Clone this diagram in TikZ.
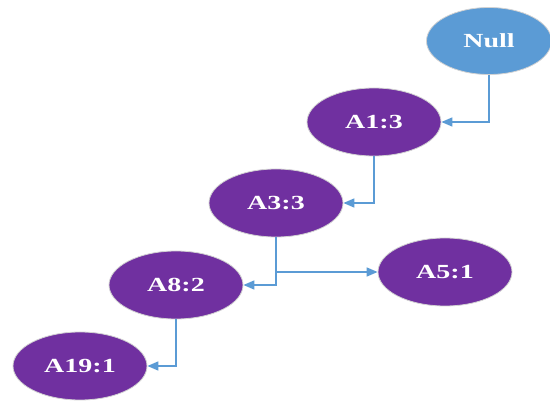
\documentclass[tikz,border=0pt]{standalone}
\usepackage{fontspec}
\newfontfamily\nodefont[FakeStretch=1.4]{Liberation Serif}
\usepackage{tikz}
\usetikzlibrary{arrows.meta,positioning,shapes.geometric}

\definecolor{listpurple}{HTML}{7030A0}
\definecolor{listblue}{HTML}{5B9BD5}

\tikzset{
  entry/.style={ellipse, fill=listpurple, draw=gray!35, line width=0.8pt,
    minimum width=134pt, minimum height=68pt, inner sep=0pt,
    text=white, font=\nodefont\bfseries\fontsize{20}{22}\selectfont},
  head/.style={entry, fill=listblue, minimum width=125pt, minimum height=67pt},
  link/.style={draw=listblue, line width=1.6pt,
    -{Triangle[length=11pt,width=9pt]}}
}

\begin{document}
\begin{tikzpicture}[x=1pt,y=-1pt]
        \useasboundingbox (0,0) rectangle (550,401);

        \node[head]  (null) at (489, 41)  {Null};
        \node[entry] (a1)   at (374, 122) {A1:3};
        \node[entry] (a3)   at (276, 203) {A3:3};
        \node[entry] (a8)   at (176, 285) {A8:2};
        \node[entry] (a5)   at (445, 272) {A5:1};
        \node[entry] (a19)  at (80, 366)  {A19:1};

        \draw[link] (null.south) |- (a1.east);
        \draw[link] (a1.south) |- (a3.east);
        \draw[link] (a3.south) |- (a8.east);
        \draw[link] (a3.south |- a5.west) -- (a5.west); % branch to A5
        \draw[link] (a8.south) |- (a19.east);
\end{tikzpicture}
\end{document}
